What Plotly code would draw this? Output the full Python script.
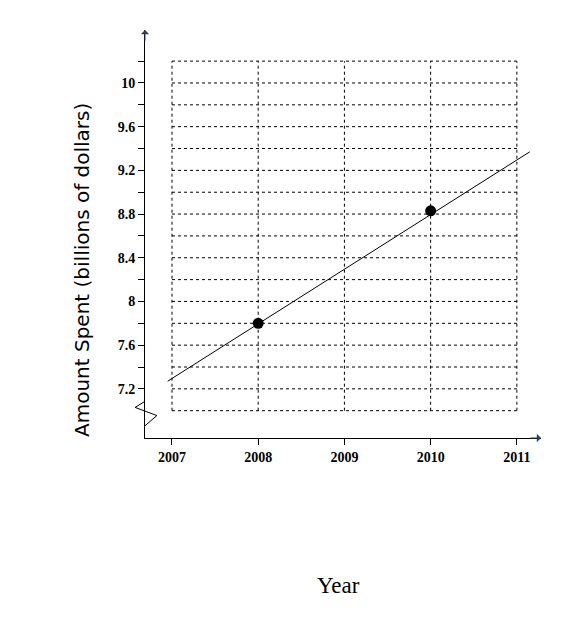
import plotly.graph_objects as go

# values
point_years = [2008, 2010]
point_amounts = [7.8, 8.83]
line_years = [2006.95, 2011.15]
line_amounts = [7.27, 9.37]
x_ticks = [2007, 2008, 2009, 2010, 2011]
y_ticks = [7.2, 7.4, 7.6, 7.8, 8.0, 8.2, 8.4, 8.6, 8.8, 9.0, 9.2, 9.4, 9.6, 9.8, 10.0, 10.2]
y_labels = ['7.2', '', '7.6', '', '8', '', '8.4', '', '8.8', '', '9.2', '', '9.6', '', '10', '']
grid_rows = [7.0] + y_ticks

fig = go.Figure()

shapes = []
# dotted grid
for yv in grid_rows:
    shapes.append(dict(type='line', x0=2007, x1=2011, y0=yv, y1=yv,
                       line=dict(color='black', width=1, dash='dot')))
for xv in x_ticks:
    shapes.append(dict(type='line', x0=xv, x1=xv, y0=7.0, y1=10.2,
                       line=dict(color='black', width=1, dash='dot')))
# axis break zigzag on the y axis
shapes.append(dict(type='path', xref='paper', yref='paper',
                   path='M 0,0.03 L 0.03,0.055 L -0.025,0.075 L 0.0,0.09',
                   line=dict(color='black', width=1)))

fig.add_trace(go.Scatter(x=line_years, y=line_amounts, mode='lines',
                         line=dict(color='black', width=1), showlegend=False))
fig.add_trace(go.Scatter(x=point_years, y=point_amounts, mode='markers',
                         marker=dict(color='black', size=11), showlegend=False))

# arrowheads
fig.add_annotation(x=1.0, y=0, xref='paper', yref='paper', ax=-12, ay=0,
                   showarrow=True, arrowhead=1, arrowsize=1.4, arrowwidth=1, text='')
fig.add_annotation(x=0, y=1.0, xref='paper', yref='paper', ax=0, ay=12,
                   showarrow=True, arrowhead=1, arrowsize=1.4, arrowwidth=1, text='')

fig.add_annotation(text='Amount Spent (billions of dollars)', textangle=-90,
                   x=(68 - 145) / 396, y=(438 - 270) / 408, xref='paper', yref='paper',
                   showarrow=False,
                   font=dict(family='DejaVu Sans', size=20, color='black'))
fig.add_annotation(text='Year', x=(338 - 145) / 396, y=(438 - 600) / 408,
                   xref='paper', yref='paper', showarrow=False,
                   font=dict(family='Liberation Serif', size=23, color='black'))

fig.update_layout(
    width=563, height=619,
    margin=dict(l=137, r=30, t=22, b=189),
    plot_bgcolor='white', paper_bgcolor='white',
    shapes=shapes,
    xaxis=dict(range=[2006.687, 2011.28], tickvals=x_ticks,
               ticktext=['<b>%d</b>' % v for v in x_ticks], ticks='outside',
               ticklen=6, tickcolor='black', showgrid=False, zeroline=False,
               showline=True, linecolor='black', linewidth=1,
               tickfont=dict(family='Liberation Serif', size=14, color='black')),
    yaxis=dict(range=[6.75, 10.485], tickvals=y_ticks,
               ticktext=['<b>%s</b>' % t if t else '' for t in y_labels],
               ticks='outside', ticklen=6, tickcolor='black', showgrid=False,
               zeroline=False, showline=True, linecolor='black', linewidth=1,
               tickfont=dict(family='Liberation Serif', size=14, color='black')),
)

fig.write_html("out.html")
